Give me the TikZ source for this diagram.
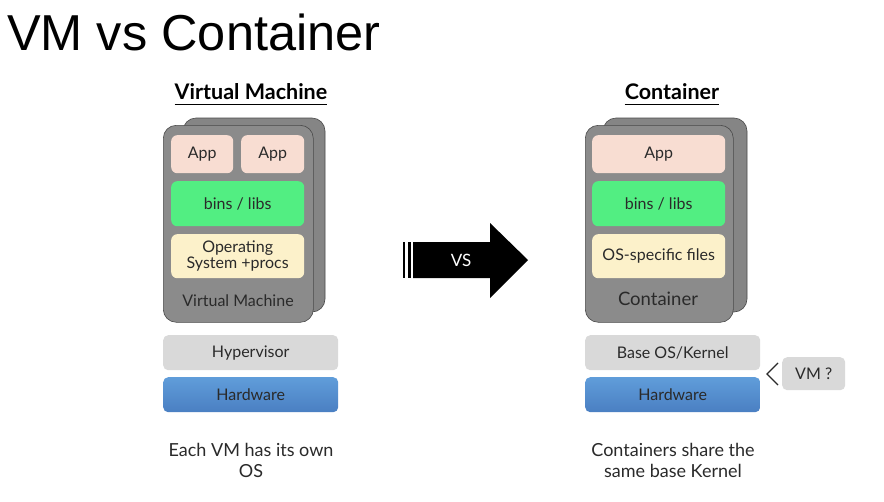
\documentclass[tikz,border=0pt]{standalone}
\usepackage{fontspec}
\setmainfont{Lato}
\newfontfamily\titlefont{Liberation Sans}
\definecolor{appc}{HTML}{F8DDD2}
\definecolor{binc}{HTML}{52EE82}
\definecolor{osc}{HTML}{FCF1CA}
\definecolor{boxc}{HTML}{8B8B8B}
\definecolor{backc}{HTML}{858585}
\definecolor{edgec}{HTML}{4A4A4A}
\definecolor{hyc}{HTML}{D9D9D9}
\definecolor{hwtop}{HTML}{609DDA}
\definecolor{hwbot}{HTML}{4A7FC2}
\definecolor{txtc}{HTML}{2A2A2A}
\tikzset{
  stackbox/.style={draw=edgec, line width=0.6pt, fill=boxc, rounded corners=13pt},
  backbox/.style={draw=edgec, line width=0.6pt, fill=backc, rounded corners=13pt},
  inner/.style={draw=none, rounded corners=6pt, text=txtc, font=\fontsize{16}{18}\selectfont, align=center, inner sep=0pt},
  layer/.style={draw=none, rounded corners=5pt, text=txtc, font=\fontsize{16}{18}\selectfont, inner sep=0pt},
  lbl/.style={text=txtc, font=\fontsize{16}{18}\selectfont, inner sep=0pt},
  head/.style={text=black, font=\bfseries\fontsize{21.5}{23}\selectfont, inner sep=0pt},
  note/.style={text=txtc, font=\fontsize{18}{21}\selectfont, align=center, inner sep=0pt}
}
\begin{document}
\begin{tikzpicture}[x=1pt,y=-1pt]
\useasboundingbox (0,0) rectangle (884,501);
\fill[white] (0,0) rectangle (884,501);
% title
\node[anchor=west, inner sep=0pt, font=\titlefont\fontsize{50.5}{54}\selectfont] (title) at (7,32) {VM vs Container};

% ---------- Virtual machine ----------
\node[head] (vmhead) at (251,92) {Virtual Machine};
\draw[line width=1.4pt] (vmhead.south west)++(0,4) coordinate (vmu1) -- (vmu1 -| vmhead.south east);
\draw[backbox] (183,118) rectangle (325,312);
\node[stackbox, minimum width=150pt, minimum height=197pt, anchor=north west] (vmbox) at (163,125) {};
\node[inner, fill=appc, minimum width=62pt, minimum height=38pt, anchor=north west] (app1) at (171,135) {App};
\node[inner, fill=appc, minimum width=63pt, minimum height=38pt, anchor=north west] (app2) at (241,135) {App};
\node[inner, fill=binc, minimum width=133pt, minimum height=45pt, anchor=north west] (bins1) at (171,181) {bins / libs};
\node[inner, fill=osc, minimum width=133pt, minimum height=44pt, anchor=north west] (os1) at (171,234) {Operating\\[-2pt]System +procs};
\node[lbl] (vmlbl) at (238,301) {Virtual Machine};
\node[layer, fill=hyc, minimum width=175pt, minimum height=35pt, anchor=north west] (hyp) at (163,335) {Hypervisor};
\node[layer, top color=hwtop, bottom color=hwbot, minimum width=175pt, minimum height=35pt, anchor=north west] (hw1) at (163,377) {Hardware};
\node[note] (note1) at (251,460) {Each VM has its own\\OS};

% ---------- VS arrow ----------
\fill[black] (413,242) -- (490,242) -- (490,223) -- (528,260) -- (490,298) -- (490,278) -- (413,278) -- cycle;
\fill[black] (402.5,242) rectangle (405,278);
\fill[black] (408,242) rectangle (411,278);
\node[text=white, font=\fontsize{17}{19}\selectfont, inner sep=0pt] (vs) at (461,260) {VS};

% ---------- Container ----------
\node[head] (cthead) at (672,92) {Container};
\draw[line width=1.4pt] (cthead.south west)++(0,4) coordinate (ctu1) -- (ctu1 -| cthead.south east);
\draw[backbox] (603,118) rectangle (747,312);
\node[stackbox, minimum width=148pt, minimum height=197pt, anchor=north west] (ctbox) at (585,125) {};
\node[inner, fill=appc, minimum width=133pt, minimum height=38pt, anchor=north west] (app3) at (592,135) {App};
\node[inner, fill=binc, minimum width=133pt, minimum height=45pt, anchor=north west] (bins2) at (592,181) {bins / libs};
\node[inner, fill=osc, minimum width=133pt, minimum height=44pt, anchor=north west] (os2) at (592,234) {OS-specific files};
\node[lbl, font=\fontsize{18.5}{20}\selectfont] (ctlbl) at (658,299) {Container};
\node[layer, fill=hyc, minimum width=175pt, minimum height=35pt, anchor=north west] (kern) at (585,335) {Base OS/Kernel};
\node[layer, top color=hwtop, bottom color=hwbot, minimum width=175pt, minimum height=35pt, anchor=north west] (hw2) at (585,377) {Hardware};
\node[layer, fill=hyc, minimum width=63pt, minimum height=33pt, anchor=north west] (vmq) at (782,357) {VM ?};
\coordinate (chtop) at (778,363);
\coordinate (chtip) at (767,374);
\coordinate (chbot) at (778,385);
\draw[line width=1.2pt, txtc] (chtop) -- (chtip) -- (chbot);
\node[note] (note2) at (673,460) {Containers share the\\same base Kernel};
\end{tikzpicture}
\end{document}
